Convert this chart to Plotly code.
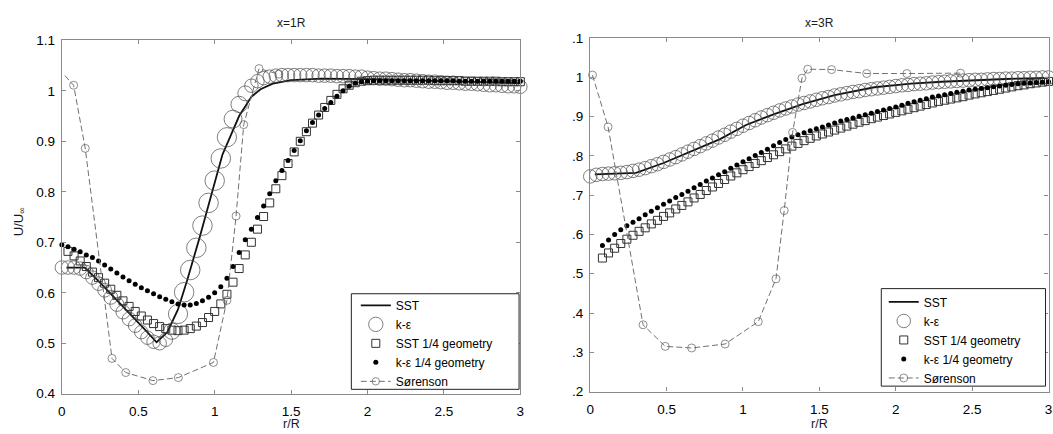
import plotly.graph_objects as go
import numpy as np

# ---------------- data ----------------
r_grid = [0.00, 0.04, 0.08, 0.12, 0.16, 0.20, 0.24, 0.28, 0.32, 0.36,
          0.40, 0.44, 0.48, 0.52, 0.56, 0.60, 0.64, 0.68, 0.72, 0.76,
          0.80, 0.84, 0.88, 0.92, 0.96, 1.00, 1.04, 1.08, 1.12, 1.16,
          1.20, 1.24, 1.28, 1.32, 1.36, 1.40, 1.44, 1.48, 1.52, 1.56,
          1.60, 1.64, 1.68, 1.72, 1.76, 1.80, 1.84, 1.88, 1.92, 1.96,
          2.00, 2.04, 2.08, 2.12, 2.16, 2.20, 2.24, 2.28, 2.32, 2.36,
          2.40, 2.44, 2.48, 2.52, 2.56, 2.60, 2.64, 2.68, 2.72, 2.76,
          2.80, 2.84, 2.88, 2.92, 2.96, 3.00]

# x = 1R
sst1_r = [0.03, 0.15, 0.25, 0.35, 0.45, 0.55, 0.62, 0.69, 0.76, 0.82, 0.90, 0.94,
          1.05, 1.16, 1.24, 1.30, 1.38, 1.50, 1.70, 2.00, 2.30, 2.60, 3.00]
sst1_u = [0.650, 0.650, 0.620, 0.589, 0.557, 0.525, 0.502, 0.522, 0.567, 0.625, 0.708, 0.752,
          0.873, 0.950, 0.988, 1.003, 1.014, 1.021, 1.024, 1.023, 1.021, 1.018, 1.015]

ke1_u = [0.650, 0.650, 0.650, 0.648, 0.641, 0.630, 0.618, 0.605, 0.591, 0.577,
         0.562, 0.548, 0.535, 0.522, 0.511, 0.503, 0.500, 0.507, 0.524, 0.558,
         0.601, 0.645, 0.689, 0.733, 0.778, 0.822, 0.866, 0.908, 0.944, 0.973,
         0.995, 1.010, 1.019, 1.025, 1.028, 1.030, 1.031, 1.031, 1.031, 1.031,
         1.031, 1.031, 1.030, 1.030, 1.030, 1.029, 1.029, 1.029, 1.028, 1.028,
         1.026, 1.025, 1.024, 1.024, 1.023, 1.022, 1.021, 1.021, 1.020, 1.019,
         1.018, 1.018, 1.017, 1.016, 1.016, 1.015, 1.014, 1.014, 1.013, 1.012,
         1.011, 1.011, 1.010, 1.009, 1.009, 1.008]

sstq1_u = [None, 0.682, 0.673, 0.663, 0.652, 0.641, 0.630, 0.619, 0.607, 0.595,
           0.584, 0.573, 0.563, 0.554, 0.546, 0.539, 0.533, 0.529, 0.526, 0.525,
           0.526, 0.529, 0.534, 0.541, 0.551, 0.563, 0.578, 0.597, 0.621, 0.648,
           0.675, 0.700, 0.726, 0.751, 0.778, 0.806, 0.832, 0.856, 0.879, 0.900,
           0.919, 0.936, 0.952, 0.967, 0.981, 0.993, 1.004, 1.011, 1.016, 1.019,
           1.020, 1.021, 1.021, 1.021, 1.021, 1.021, 1.021, 1.021, 1.021, 1.021,
           1.021, 1.020, 1.020, 1.020, 1.020, 1.020, 1.019, 1.019, 1.019, 1.019,
           1.019, 1.019, 1.018, 1.018, 1.018, 1.018]

keq1_u = [0.695, 0.691, 0.686, 0.681, 0.675, 0.670, 0.663, 0.655, 0.647, 0.639,
          0.631, 0.624, 0.617, 0.610, 0.604, 0.598, 0.592, 0.587, 0.582, 0.578,
          0.576, 0.576, 0.579, 0.584, 0.591, 0.600, 0.612, 0.629, 0.652, 0.680,
          0.705, 0.726, 0.749, 0.772, 0.796, 0.822, 0.842, 0.862, 0.882, 0.901,
          0.921, 0.937, 0.952, 0.965, 0.977, 0.989, 1.000, 1.009, 1.015, 1.018,
          1.019, 1.020, 1.020, 1.020, 1.020, 1.020, 1.020, 1.020, 1.020, 1.020,
          1.020, 1.020, 1.020, 1.020, 1.020, 1.019, 1.019, 1.019, 1.019, 1.019,
          1.019, 1.019, 1.019, 1.019, 1.019, 1.019]

sor1_r = [0.02, 0.077, 0.153, 0.328, 0.418, 0.596, 0.762, 0.992, 1.08, 1.14, 1.19, 1.29, 1.42]
sor1_u = [1.030, 1.011, 0.886, 0.470, 0.442, 0.426, 0.432, 0.462, 0.585, 0.752, 0.933, 1.044, 1.033]

# x = 3R
sst3_r = [0.03, 0.15, 0.30, 0.48, 0.63, 0.85, 1.02, 1.20, 1.39, 1.60, 1.86, 2.10, 2.30, 2.50, 2.72, 3.00]
sst3_u = [0.753, 0.754, 0.757, 0.782, 0.806, 0.843, 0.879, 0.906, 0.932, 0.955, 0.975, 0.984,
          0.989, 0.993, 0.996, 0.999]

ke3_u = [0.748, 0.752, 0.754, 0.755, 0.756, 0.757, 0.759, 0.762, 0.765, 0.769,
         0.774, 0.779, 0.785, 0.791, 0.797, 0.804, 0.811, 0.818, 0.825, 0.832,
         0.839, 0.847, 0.854, 0.862, 0.869, 0.877, 0.884, 0.891, 0.898, 0.904,
         0.910, 0.916, 0.921, 0.926, 0.931, 0.935, 0.939, 0.943, 0.947, 0.950,
         0.954, 0.957, 0.960, 0.963, 0.965, 0.968, 0.970, 0.972, 0.974, 0.976,
         0.978, 0.980, 0.981, 0.983, 0.984, 0.985, 0.987, 0.988, 0.989, 0.990,
         0.991, 0.992, 0.993, 0.994, 0.994, 0.995, 0.996, 0.996, 0.997, 0.997,
         0.998, 0.998, 0.999, 0.999, 1.000, 1.000]

sstq3_u = [None, None, 0.540, 0.553, 0.565, 0.577, 0.588, 0.598, 0.608, 0.617,
           0.627, 0.636, 0.646, 0.655, 0.665, 0.674, 0.683, 0.693, 0.702, 0.712,
           0.721, 0.730, 0.740, 0.749, 0.757, 0.765, 0.773, 0.781, 0.788, 0.796,
           0.803, 0.811, 0.818, 0.825, 0.832, 0.839, 0.845, 0.851, 0.856, 0.861,
           0.866, 0.871, 0.876, 0.881, 0.886, 0.890, 0.895, 0.899, 0.903, 0.907,
           0.911, 0.915, 0.919, 0.923, 0.927, 0.931, 0.935, 0.939, 0.942, 0.945,
           0.948, 0.951, 0.955, 0.958, 0.961, 0.964, 0.967, 0.970, 0.973, 0.976,
           0.979, 0.981, 0.984, 0.986, 0.988, 0.990]

keq3_u = [None, None, 0.572, 0.586, 0.600, 0.612, 0.622, 0.631, 0.640, 0.650,
          0.659, 0.668, 0.677, 0.685, 0.694, 0.702, 0.710, 0.719, 0.727, 0.736,
          0.744, 0.752, 0.760, 0.769, 0.777, 0.785, 0.793, 0.801, 0.809, 0.817,
          0.826, 0.834, 0.842, 0.848, 0.854, 0.859, 0.864, 0.869, 0.874, 0.879,
          0.884, 0.889, 0.893, 0.897, 0.901, 0.905, 0.909, 0.913, 0.917, 0.921,
          0.925, 0.929, 0.934, 0.938, 0.942, 0.946, 0.950, 0.953, 0.956, 0.959,
          0.962, 0.965, 0.968, 0.970, 0.972, 0.974, 0.976, 0.978, 0.980, 0.982,
          0.984, 0.985, 0.986, 0.987, 0.988, 0.989]

sor3_r = [0.015, 0.117, 0.346, 0.491, 0.664, 0.883, 1.10, 1.216, 1.27, 1.325, 1.386, 1.424,
          1.58, 1.81, 2.073, 2.424]
sor3_u = [1.006, 0.874, 0.370, 0.315, 0.311, 0.321, 0.378, 0.487, 0.661, 0.860, 0.998, 1.021,
          1.020, 1.010, 1.010, 1.011]

x_ticks = [0, 0.5, 1, 1.5, 2, 2.5, 3]
x_ticktext = ["0", "0.5", "1", "1.5", "2", "2.5", "3"]
y1_ticks = [0.4, 0.5, 0.6, 0.7, 0.8, 0.9, 1.0, 1.1]
y1_ticktext = ["0.4", "0.5", "0.6", "0.7", "0.8", "0.9", "1", "1.1"]
y3_ticks = [0.2, 0.3, 0.4, 0.5, 0.6, 0.7, 0.8, 0.9, 1.0, 1.1]
y3_ticktext = [".2", ".3", ".4", ".5", ".6", ".7", ".8", ".9", "1", ".1"]

names = ["SST", "k-ε", "SST 1/4 geometry", "k-ε 1/4 geometry", "Sørenson"]

# ---------------- figure ----------------
W, H = 1053, 434
FONT = "Liberation Sans, Arial, sans-serif"
fig = go.Figure()


def circle_sizes(u):
    # larger open circles where the profile is steep (as in the source picture)
    y = np.array([np.nan if v is None else v for v in u], dtype=float)
    g = np.abs(np.gradient(y, np.array(r_grid)))
    t = np.clip((g - 0.3) / 0.7, 0, 1)
    return list(13.5 + 6.0 * t)


def add_panel(xa, ya, leg, sst_r, sst_u, ke_u, sstq_u, keq_u, sor_r, sor_u):
    fig.add_trace(go.Scatter(x=sst_r, y=sst_u, mode="lines", name=names[0],
                             line=dict(color="#111111", width=1.8),
                             xaxis=xa, yaxis=ya, legend=leg))
    fig.add_trace(go.Scatter(x=r_grid, y=ke_u, mode="markers", name=names[1],
                             marker=dict(symbol="circle-open", size=circle_sizes(ke_u),
                                         color="#4a4a4a", line=dict(width=1)),
                             cliponaxis=False, xaxis=xa, yaxis=ya, legend=leg))
    fig.add_trace(go.Scatter(x=r_grid, y=sstq_u, mode="markers", name=names[2],
                             marker=dict(symbol="square-open", size=8,
                                         color="#333333", line=dict(width=1)),
                             cliponaxis=False, xaxis=xa, yaxis=ya, legend=leg))
    fig.add_trace(go.Scatter(x=r_grid, y=keq_u, mode="markers", name=names[3],
                             marker=dict(symbol="circle", size=5, color="#000000"),
                             cliponaxis=False, xaxis=xa, yaxis=ya, legend=leg))
    sizes = [8] * len(sor_r)
    if leg == "legend":
        sizes[0] = 0
    fig.add_trace(go.Scatter(x=sor_r, y=sor_u, mode="lines+markers", name=names[4],
                             line=dict(color="#707070", width=1, dash="6px,3px"),
                             marker=dict(symbol="circle-open", size=sizes,
                                         color="#606060", line=dict(width=1)),
                             cliponaxis=False, xaxis=xa, yaxis=ya, legend=leg))


add_panel("x", "y", "legend", sst1_r, sst1_u, ke1_u, sstq1_u, keq1_u, sor1_r, sor1_u)
add_panel("x2", "y2", "legend2", sst3_r, sst3_u, ke3_u, sstq3_u, keq3_u, sor3_r, sor3_u)

axis_common = dict(showgrid=False, zeroline=False, showline=True, linecolor="#8a8a8a",
                   linewidth=1.3, mirror="ticks", ticks="inside", ticklen=4,
                   tickcolor="#8a8a8a", tickwidth=1,
                   tickfont=dict(family=FONT, size=13.5, color="#000000"))


def px_x(p):
    return p / W


def px_y(p):
    return (H - p) / H


leg_common = dict(xanchor="left", yanchor="top", bgcolor="rgba(0,0,0,0)",
                  borderwidth=0, tracegroupgap=0, itemsizing="trace",
                  font=dict(family=FONT, size=12, color="#000000"))

fig.update_layout(
    width=W, height=H, autosize=False,
    margin=dict(l=0, r=0, t=0, b=0),
    paper_bgcolor="white", plot_bgcolor="white",
    showlegend=True,
    xaxis=dict(domain=[px_x(58.3), px_x(520.3)], range=[0, 3], tickvals=x_ticks,
               ticktext=x_ticktext, anchor="y", ticklabelstandoff=5, **axis_common),
    yaxis=dict(domain=[px_y(400.6), px_y(34.5)], range=[0.4, 1.1], tickvals=y1_ticks,
               ticktext=y1_ticktext, anchor="x", ticklabelstandoff=3, **axis_common),
    xaxis2=dict(domain=[px_x(590.7), px_x(1052.5)], range=[0, 3], tickvals=x_ticks,
                ticktext=x_ticktext, anchor="y2", ticklabelstandoff=5, **axis_common),
    yaxis2=dict(domain=[px_y(398.3), px_y(32.3)], range=[0.2, 1.1], tickvals=y3_ticks,
                ticktext=y3_ticktext, anchor="x2", ticklabelstandoff=3, **axis_common),
    legend=dict(x=px_x(354.5), y=px_y(294), **leg_common),
    legend2=dict(x=px_x(886.5), y=px_y(290.5), **leg_common),
)

# legend frames (white boxes with a thin black border, drawn above the data)
for x0, y0, x1, y1 in [(350, 297, 519, 396), (884, 291.7, 1049.5, 392.7)]:
    fig.add_shape(type="rect", xref="paper", yref="paper",
                  x0=px_x(x0), x1=px_x(x1), y0=px_y(y1), y1=px_y(y0),
                  fillcolor="white", line=dict(color="#222222", width=1), layer="above")

ann_font = dict(family=FONT, size=12, color="#1a1a1a")
for cx, txt in [((58.3 + 520.3) / 2, "x=1R"), ((590.7 + 1052) / 2, "x=3R")]:
    fig.add_annotation(x=px_x(cx), y=px_y(17), xref="paper", yref="paper", text=txt,
                       showarrow=False, xanchor="center", yanchor="middle", font=ann_font)
    fig.add_annotation(x=px_x(cx), y=px_y(423), xref="paper", yref="paper", text="r/R",
                       showarrow=False, xanchor="center", yanchor="top",
                       font=dict(family=FONT, size=12.5, color="#1a1a1a"))
fig.add_annotation(x=px_x(15), y=px_y(222), xref="paper", yref="paper",
                   text="U/U<sub>∞</sub>", textangle=-90, showarrow=False,
                   xanchor="center", yanchor="middle",
                   font=dict(family=FONT, size=13, color="#1a1a1a"))

fig.write_html("out.html",
               config={"displayModeBar": False},
               post_script="document.body.style.margin='0px';"
                           "document.body.style.overflow='hidden';")
